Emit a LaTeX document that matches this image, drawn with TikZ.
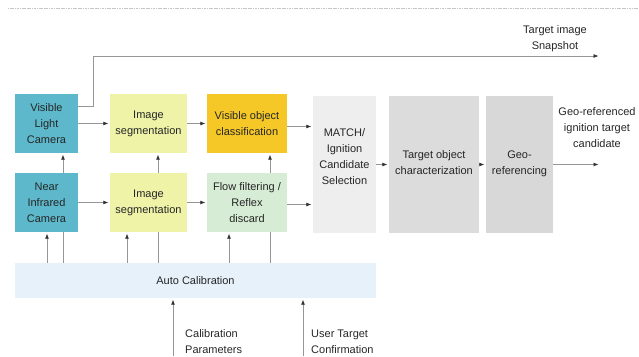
\documentclass[tikz,border=0pt]{standalone}
\usepackage{fontspec}
\setmainfont{Liberation Sans}
\usetikzlibrary{arrows.meta}
\definecolor{camteal}{RGB}{92,184,202}
\definecolor{segyellow}{RGB}{238,243,168}
\definecolor{clsgold}{RGB}{245,200,40}
\definecolor{flowgreen}{RGB}{214,236,212}
\definecolor{calblue}{RGB}{230,241,250}
\definecolor{matchgray}{RGB}{238,238,238}
\definecolor{chargray}{RGB}{220,220,220}
\definecolor{georefgray}{RGB}{216,216,216}
\definecolor{linegray}{RGB}{150,150,150}
\tikzset{
  blk/.style={draw=none, inner sep=1pt, align=center, text=black!85,
    font=\fontsize{11}{16}\selectfont},
  lbl/.style={inner sep=0pt, text=black!85, font=\fontsize{11}{16}\selectfont},
  ln/.style={draw=linegray, line width=0.7pt},
  arr/.style={ln, -{Latex[length=5pt,width=4pt,color=black!80]}, shorten >=1.5pt},
}
\begin{document}
\begin{tikzpicture}[x=1pt,y=-1pt]
\useasboundingbox (0,0) rectangle (639,356);
% header rule
\draw[gray!45, line width=0.9pt, dash pattern=on 1.2pt off 0.5pt] (8,8) -- (639,8);

% processing blocks
\node[blk, fill=camteal, minimum width=63pt, minimum height=59pt] (vlc) at (46.5,123.5) {Visible\\Light\\Camera};
\node[blk, fill=segyellow, minimum width=77pt, minimum height=59pt] (seg1) at (148.5,123.5) {Image\\segmentation};
\node[blk, fill=clsgold, minimum width=80pt, minimum height=59pt] (cls) at (247,123.5) {Visible object\\classification};
\node[blk, fill=camteal, minimum width=63pt, minimum height=59pt] (nir) at (46.5,202.5) {Near\\Infrared\\Camera};
\node[blk, fill=segyellow, minimum width=77pt, minimum height=59pt] (seg2) at (148.5,202.5) {Image\\segmentation};
\node[blk, fill=flowgreen, minimum width=80pt, minimum height=59pt] (flow) at (247,202.5) {Flow filtering /\\Reflex\\discard};
\node[blk, fill=calblue, minimum width=361pt, minimum height=35pt] (auto) at (195.5,280.5) {Auto Calibration};
\node[blk, fill=matchgray, minimum width=63pt, minimum height=137pt, text depth=16pt] (match) at (344.5,164.5) {MATCH/\\Ignition\\Candidate\\Selection};
\node[blk, fill=chargray, minimum width=90pt, minimum height=137pt, text depth=4pt] (tchar) at (434,164.5) {Target object\\characterization};
\node[blk, fill=georefgray, minimum width=67pt, minimum height=137pt, text depth=4pt] (geo) at (519.5,164.5) {Geo-\\referencing};

% free labels
\node[lbl, align=center] (snaplbl) at (555,39) {Target image\\Snapshot};
\node[lbl, align=center] (outlbl) at (597,128) {Geo-referenced\\ignition target\\candidate};
\node[lbl, align=left, anchor=west] (callbl) at (185,342) {Calibration\\Parameters};
\node[lbl, align=left, anchor=west] (usrlbl) at (311,342) {User Target\\Confirmation};

% free ends of connectors
\coordinate (snapEnd) at (600,56);
\coordinate (outEnd) at (600,164.5);
\coordinate (calIn) at (173,356);
\coordinate (usrIn) at (303,356);
\coordinate (xa) at (47,0);
\coordinate (xb) at (63,0);
\coordinate (xc) at (127,0);
\coordinate (xd) at (158,0);
\coordinate (xe) at (229,0);
\coordinate (xf) at (270,0);

% main flow
\draw[arr] (vlc) -- (seg1);
\draw[arr] (seg1) -- (cls);
\draw[arr] ([yshift=-3pt]cls.east) -- ([yshift=-3pt]cls.east -| match.west);
\draw[arr] (nir) -- (seg2);
\draw[arr] (seg2) -- (flow);
\draw[arr] ([yshift=-2pt]flow.east) -- ([yshift=-2pt]flow.east -| match.west);
\draw[arr] (match.east) -- (tchar.west);
\draw[arr] (tchar.east) -- (geo.west);
\draw[arr] (geo.east) -- (outEnd);
\draw[arr] ([yshift=17.5pt]vlc.east) -- ++(15,0) |- (snapEnd);

% calibration feeds
\draw[arr] (xa |- auto.north) -- (xa |- nir.south);
\draw[ln]  (xb |- auto.north) -- (xb |- nir.south);
\draw[arr] (xb |- nir.north) -- (xb |- vlc.south);
\draw[arr] (xc |- auto.north) -- (xc |- seg2.south);
\draw[ln]  (xd |- auto.north) -- (xd |- seg2.south);
\draw[arr] (xd |- seg2.north) -- (xd |- seg1.south);
\draw[arr] (xe |- auto.north) -- (xe |- flow.south);
\draw[ln]  (xf |- auto.north) -- (xf |- flow.south);
\draw[arr] (xf |- flow.north) -- (xf |- cls.south);

% external inputs
\draw[arr] (calIn) -- (calIn |- auto.south);
\draw[arr] (usrIn) -- (usrIn |- auto.south);
\end{tikzpicture}
\end{document}
